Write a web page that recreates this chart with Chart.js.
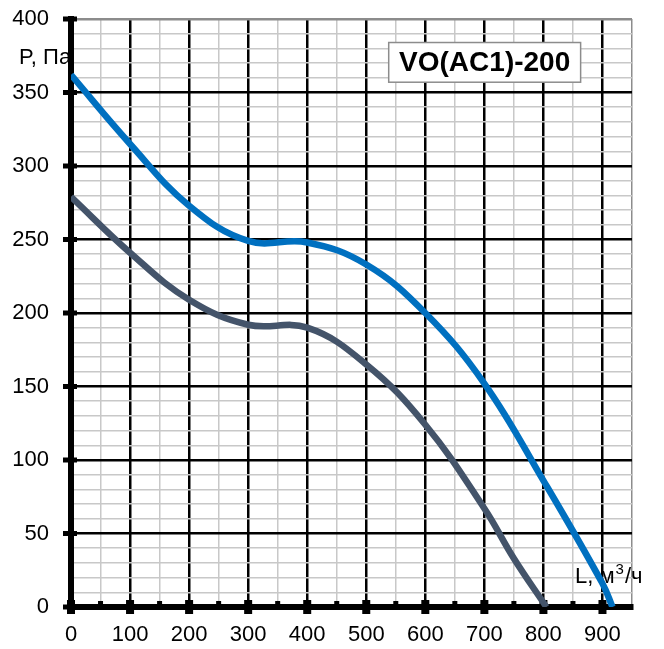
<!DOCTYPE html>
<html>
<head>
<meta charset="utf-8">
<script src="https://cdn.jsdelivr.net/npm/chart.js@4.4.1/dist/chart.umd.min.js"></script>
<style>
  html, body { margin: 0; padding: 0; background: #fff; }
  #wrap { width: 664px; height: 649px; }
</style>
</head>
<body>
<div id="wrap"><canvas id="fan-chart"></canvas></div>
<script>
// Fan curve VO(AC1)-200: static pressure P (Pa) vs air flow L (m3/h)
const flowHigh = [0, 100, 200, 300, 400, 500, 600, 700, 800, 900, 917];
const pressureHigh = [362, 315, 273, 249, 248, 233, 200, 152, 86, 16, 0];

const flowLow = [0, 100, 200, 300, 400, 500, 600, 700, 750, 805];
const pressureLow = [279, 241, 209, 192, 190, 165, 124, 67, 33, 0];

const xTickLabels = [0, 100, 200, 300, 400, 500, 600, 700, 800, 900];
const yTickLabels = [0, 50, 100, 150, 200, 250, 300, 350, 400];

const modelName = 'VO(AC1)-200';
const yAxisTitle = 'P, Па';

const FONT = '"Liberation Sans", Arial, sans-serif';
const X_MAX = 950;
const Y_MAX = 400;

const toPoints = (xs, ys) => xs.map((x, i) => ({ x: x, y: ys[i] }));

// Axis captions, tick marks and the model label box
const decorations = {
    id: 'decorations',
    beforeDraw(chart) {
        const ctx = chart.ctx;
        ctx.save();
        ctx.fillStyle = '#000';
        ctx.font = '22px ' + FONT;
        ctx.textBaseline = 'alphabetic';
        ctx.textAlign = 'left';
        ctx.fillText(yAxisTitle, 19, 64);
        ctx.restore();
    },
    beforeDatasetsDraw(chart) {
        const { ctx, chartArea, scales: { x, y } } = chart;
        ctx.save();

        // x axis caption with superscript
        ctx.fillStyle = '#000';
        ctx.textBaseline = 'alphabetic';
        ctx.font = '22px ' + FONT;
        let tx = 575;
        const base = 583;
        ctx.fillText('L, м', tx, base);
        tx += ctx.measureText('L, м').width + 1;
        ctx.font = '15px ' + FONT;
        ctx.fillText('3', tx, base - 9);
        tx += ctx.measureText('3').width + 1;
        ctx.font = '22px ' + FONT;
        ctx.fillText('/ч', tx, base);

        // tick marks
        ctx.fillStyle = '#000';
        yTickLabels.forEach(v => {
            const py = y.getPixelForValue(v);
            ctx.fillRect(chartArea.left - 8, py - 2.5, 14, 5);
        });
        for (let v = 0; v <= X_MAX - 50; v += 50) {
            const px = x.getPixelForValue(v);
            if (v % 100 === 0) {
                ctx.fillRect(px - 4, chartArea.bottom - 7, 8, 14);
            } else {
                ctx.fillRect(px - 2.5, chartArea.bottom - 6, 5, 4);
            }
        }
        ctx.restore();
    },
    afterDraw(chart) {
        const { ctx, scales: { x, y } } = chart;
        const left = x.getPixelForValue(538);
        const right = x.getPixelForValue(863);
        const top = y.getPixelForValue(384);
        const bottom = y.getPixelForValue(357);
        ctx.save();
        ctx.fillStyle = '#fff';
        ctx.fillRect(left, top, right - left, bottom - top);
        ctx.strokeStyle = '#8c8c8c';
        ctx.lineWidth = 1.5;
        ctx.strokeRect(left, top, right - left, bottom - top);
        ctx.fillStyle = '#000';
        ctx.font = 'bold 28px ' + FONT;
        ctx.textAlign = 'center';
        ctx.textBaseline = 'middle';
        ctx.fillText(modelName, (left + right) / 2, (top + bottom) / 2 + 1);
        ctx.restore();
    }
};

new Chart(document.getElementById('fan-chart'), {
    type: 'scatter',
    data: {
        datasets: [
            {
                data: toPoints(flowHigh, pressureHigh),
                showLine: true,
                borderColor: '#0070C0',
                borderWidth: 6.5,
                pointRadius: 0,
                tension: 0.4
            },
            {
                data: toPoints(flowLow, pressureLow),
                showLine: true,
                borderColor: '#44546A',
                borderWidth: 6.5,
                pointRadius: 0,
                tension: 0.4
            }
        ]
    },
    options: {
        responsive: true,
        maintainAspectRatio: false,
        animation: false,
        layout: { padding: { top: 19, right: 32, left: 0, bottom: 0 } },
        plugins: {
            legend: { display: false },
            tooltip: { enabled: false }
        },
        scales: {
            x: {
                type: 'linear',
                min: 0,
                max: X_MAX,
                afterFit: (scale) => { scale.height = 42; },
                border: { color: '#000', width: 6 },
                grid: {
                    drawTicks: false,
                    color: (c) => c.tick.value === X_MAX ? '#8c8c8c'
                        : (c.tick.value % 100 === 0 ? '#000' : '#c8c8c8'),
                    lineWidth: (c) => c.tick.value % 100 === 0 ? 2.5 : 1.5
                },
                ticks: {
                    stepSize: 50,
                    autoSkip: false,
                    maxRotation: 0,
                    padding: 15,
                    color: '#000',
                    font: { family: FONT, size: 22 },
                    callback: (v) => xTickLabels.includes(v) ? String(v) : ''
                }
            },
            y: {
                type: 'linear',
                min: 0,
                max: Y_MAX,
                afterFit: (scale) => { scale.width = 71; },
                border: { color: '#000', width: 6 },
                grid: {
                    // invisible tick strip keeps the labels clear of the axis
                    drawTicks: true,
                    tickLength: 22,
                    tickColor: 'rgba(0,0,0,0)',
                    color: (c) => c.tick.value === Y_MAX ? '#8c8c8c'
                        : (c.tick.value % 50 === 0 ? '#000' : '#c8c8c8'),
                    lineWidth: (c) => c.tick.value % 50 === 0 ? 2.5 : 1.5
                },
                ticks: {
                    stepSize: 10,
                    autoSkip: false,
                    padding: 0,
                    color: '#000',
                    font: { family: FONT, size: 22 },
                    callback: (v) => yTickLabels.includes(v) ? String(v) : ''
                }
            }
        }
    },
    plugins: [decorations]
});
</script>
</body>
</html>
